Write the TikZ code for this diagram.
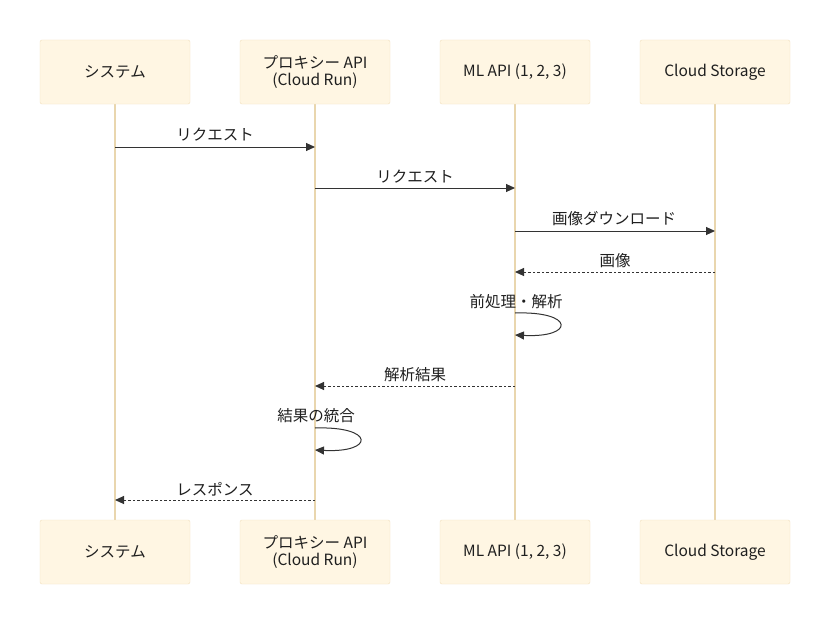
\documentclass[tikz,border=0pt]{standalone}
\usepackage{fontspec}
\setmainfont{Noto Sans CJK JP}
\usetikzlibrary{arrows.meta}
\definecolor{boxfill}{HTML}{FFF6E3}
\definecolor{boxline}{HTML}{F1E0BE}
\definecolor{life}{HTML}{E9D6AE}
\definecolor{msg}{HTML}{333333}
\tikzset{
  actor/.style={draw=boxline, fill=boxfill, rounded corners=2pt, minimum width=150pt, minimum height=64pt, inner sep=0pt, align=center, font=\fontsize{15.5}{17}\selectfont, text=black!88},
  lifeline/.style={draw=life, line width=1.3pt},
  msgline/.style={draw=msg, line width=1pt, -{Triangle[length=9pt,width=8pt]}},
  reply/.style={msgline, dash pattern=on 2.5pt off 2pt},
  lbl/.style={font=\fontsize{15.5}{17}\selectfont, text=black!88, inner sep=0pt}
}
\begin{document}
\begin{tikzpicture}[x=1pt,y=-1pt]
\useasboundingbox (0,0) rectangle (830,626);
\fill[white] (0,0) rectangle (830,626);
% lifelines
\foreach \x in {115,315,515,715}{\draw[lifeline] (\x,104) -- (\x,520);}
% actors
\node[actor] (s1) at (115,72) {\raisebox{-1.5pt}{システム}};
\node[actor] (p1) at (315,72) {\raisebox{-1.5pt}{プロキシー API}\\\raisebox{-1.5pt}{(Cloud Run)}};
\node[actor] (m1) at (515,72) {\raisebox{-1.5pt}{ML API (1, 2, 3)}};
\node[actor] (c1) at (715,72) {\raisebox{-1.5pt}{Cloud Storage}};
\node[actor] (s2) at (115,552) {\raisebox{-1.5pt}{システム}};
\node[actor] (p2) at (315,552) {\raisebox{-1.5pt}{プロキシー API}\\\raisebox{-1.5pt}{(Cloud Run)}};
\node[actor] (m2) at (515,552) {\raisebox{-1.5pt}{ML API (1, 2, 3)}};
\node[actor] (c2) at (715,552) {\raisebox{-1.5pt}{Cloud Storage}};
% coordinates
\coordinate (a1) at (115,147); \coordinate (b1) at (315,147);
\coordinate (a2) at (315,188); \coordinate (b2) at (515,188);
\coordinate (a3) at (515,231); \coordinate (b3) at (715,231);
\coordinate (a4) at (715,272); \coordinate (b4) at (515,272);
\coordinate (a5) at (515,313); \coordinate (b5) at (515,335);
\coordinate (a6) at (515,386); \coordinate (b6) at (315,386);
\coordinate (a7) at (315,428); \coordinate (b7) at (315,450);
\coordinate (a8) at (315,500); \coordinate (b8) at (115,500);
% messages
\draw[msgline] (a1) -- (b1);
\node[lbl] (l1) at (215,134.5) {リクエスト};
\draw[msgline] (a2) -- (b2);
\node[lbl] (l2) at (415,176.5) {リクエスト};
\draw[msgline] (a3) -- (b3);
\node[lbl] (l3) at (614,218.5) {画像ダウンロード};
\draw[reply] (a4) -- (b4);
\node[lbl] (l4) at (615,260.5) {画像};
\node[lbl] (l5) at (516,301.5) {前処理・解析};
\draw[msgline] (a5) .. controls (575,311) and (575,338) .. (b5);
\draw[reply] (a6) -- (b6);
\node[lbl] (l6) at (415,374.5) {解析結果};
\node[lbl] (l7) at (316,415.5) {結果の統合};
\draw[msgline] (a7) .. controls (375,426) and (375,453) .. (b7);
\draw[reply] (a8) -- (b8);
\node[lbl] (l8) at (215,489.5) {レスポンス};
\end{tikzpicture}
\end{document}
